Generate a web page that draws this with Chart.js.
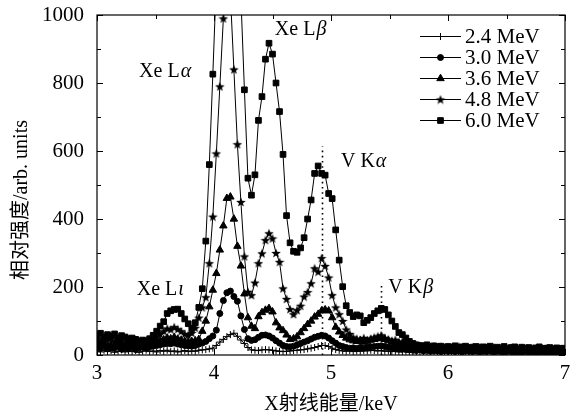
<!DOCTYPE html>
<html><head><meta charset="utf-8">
<script src="https://cdn.jsdelivr.net/npm/chart.js@4.4.1/dist/chart.umd.min.js"></script>
<style>html,body{margin:0;padding:0;background:#fff}</style>
</head><body>
<canvas id="c" width="577" height="419"></canvas>
<script>
// ---- data ----
const energy = [
3.00,3.03,3.06,3.09,3.12,3.15,3.18,3.21,3.24,3.27,
3.30,3.33,3.36,3.39,3.42,3.45,3.48,3.51,3.54,3.57,
3.60,3.63,3.66,3.69,3.72,3.75,3.78,3.81,3.84,3.87,
3.90,3.93,3.96,3.99,4.02,4.05,4.08,4.11,4.14,4.17,
4.20,4.23,4.26,4.29,4.32,4.35,4.38,4.41,4.44,4.47,
4.50,4.53,4.56,4.59,4.62,4.65,4.68,4.71,4.74,4.77,
4.80,4.83,4.86,4.89,4.92,4.95,4.98,5.01,5.04,5.07,
5.10,5.13,5.16,5.19,5.22,5.25,5.28,5.31,5.34,5.37,
5.40,5.43,5.46,5.49,5.52,5.55,5.58,5.61,5.64,5.67,
5.70,5.73,5.76,5.79,5.82,5.85,5.88,5.91,5.94,5.97,
6.00,6.03,6.06,6.09,6.12,6.15,6.18,6.21,6.24,6.27,
6.30,6.33,6.36,6.39,6.42,6.45,6.48,6.51,6.54,6.57,
6.60,6.63,6.66,6.69,6.72,6.75,6.78,6.81,6.84,6.87,
6.90,6.93,6.96,6.99];

const mev24 = [
12,9,14,10,13,8,11,15,9,12,
10,13,8,11,14,10,12,9,13,11,
14,10,12,9,11,13,10,12,11,14,
15,16,18,20,28,38,46,54,60,64,
55,44,34,22,15,14,13,15,16,15,
14,12,11,10,11,12,13,14,15,16,
18,20,22,25,28,28,25,20,16,14,
12,11,13,10,12,11,13,12,14,13,
12,13,11,12,10,11,9,10,11,9,
10,8,9,10,8,9,7,9,8,7,
8,7,9,6,8,7,8,6,7,8,
6,7,8,6,7,5,7,6,7,6,
5,6,7,5,6,5,6,5,6,5,
5,6,4,5];

const mev30 = [
25,20,28,18,24,21,26,17,22,19,
25,16,21,23,20,24,26,28,30,32,
34,33,35,32,30,28,27,26,28,32,
35,40,48,56,73,122,160,183,188,172,
158,115,75,48,43,45,52,58,59,56,
50,42,35,28,25,24,26,30,34,38,
42,47,52,55,58,56,50,42,35,28,
25,22,20,21,19,22,20,23,24,25,
26,27,25,23,21,20,18,17,16,15,
14,13,15,12,14,11,13,12,10,13,
11,12,10,13,9,12,11,10,12,9,
11,10,12,9,11,10,8,11,10,9,
10,8,11,9,10,8,9,10,8,9,
9,8,10,8];

const mev36 = [
32,28,35,26,30,24,33,27,25,30,
22,28,26,24,30,34,36,40,42,45,
50,48,52,47,44,40,38,40,42,46,
70,100,142,191,240,309,380,461,465,400,
320,262,180,110,85,78,113,125,132,137,
127,95,80,72,59,46,48,54,66,78,
90,100,112,120,130,133,130,110,82,68,
58,50,45,42,40,42,38,41,44,46,
48,50,46,42,38,36,33,30,28,27,
25,23,22,24,20,22,19,21,18,20,
19,17,20,16,18,15,19,17,16,18,
15,17,14,18,16,15,17,13,16,15,
14,16,13,15,14,16,12,15,13,14,
13,15,12,14];

const mev48 = [
48,42,52,45,50,40,47,43,36,44,
38,32,40,35,38,45,50,55,62,70,
78,75,82,76,70,62,58,65,80,110,
140,170,270,407,593,790,990,1080,1060,840,
620,450,290,186,176,213,270,299,338,358,
343,300,274,196,165,135,120,132,145,172,
185,211,255,245,285,262,228,176,140,120,
100,75,62,52,48,45,50,44,48,52,
55,58,50,46,42,45,38,40,35,32,
30,28,26,24,27,22,25,21,24,20,
23,19,22,25,18,21,20,23,17,22,
19,21,18,22,16,20,19,17,21,18,
16,20,18,15,19,17,18,16,19,15,
17,16,18,15];

const mev60 = [
58,64,52,60,55,62,50,57,53,48,
50,46,40,44,42,48,58,70,85,98,
122,130,134,135,122,106,92,78,95,140,
195,335,560,826,1100,1350,1500,1550,1500,1380,
1200,1050,780,520,470,530,690,760,870,917,
885,800,716,590,410,330,305,302,315,345,
400,456,534,556,534,529,475,460,368,279,
201,145,125,113,118,115,95,102,110,122,
130,137,134,118,100,84,66,60,50,40,
34,30,28,25,30,22,27,24,26,20,
25,23,27,21,24,26,19,23,25,20,
24,22,26,18,23,21,25,19,22,24,
18,23,20,22,17,21,24,19,20,22,
18,21,19,20];

const seriesLabels = ['2.4 MeV','3.0 MeV','3.6 MeV','4.8 MeV','6.0 MeV'];
const xTickValues = [3,4,5,6,7];
const yTickValues = [0,200,400,600,800,1000];
const xTitle = 'X射线能量/keV';
const yTitle = '相对强度/arb. units';
// dotted reference lines: energy (keV) and top (arb. units)
const lineEnergies = [4.92, 5.43];
const lineTops = [613, 203];
// peak names: roman part + greek part, anchored in data coordinates
const peakNames = ['Xe L','Xe L','V K','V K','Xe L'];
const peakGreek = ['α','β','α','β','ι'];
const peakAnchorE = [3.36, 4.52, 5.085, 5.49, 3.34];
const peakAnchorV = [832, 956, 568, 197, 191];

// ---- drawing ----
const SERIF = "'Liberation Serif','Noto Sans CJK SC',serif";
function makeStar(size){
  const c=document.createElement('canvas'); c.width=c.height=size;
  const g=c.getContext('2d'); const R=size/2, r=R*0.42;
  g.beginPath();
  for(let k=0;k<10;k++){const a=-Math.PI/2+k*Math.PI/5; const rr=k%2?r:R;
    g.lineTo(R+rr*Math.cos(a), R+0.5+rr*Math.sin(a));}
  g.closePath(); g.fillStyle='#000'; g.fill(); return c;
}
const starImg = makeStar(10);
const markerStyles = [
  {s:'cross', r:3.5},
  {s:'circle', r:3},
  {s:'triangle', r:4.3},
  {s:starImg, r:5},
  {s:'rect', r:4}
];
const allSeries = [mev24, mev30, mev36, mev48, mev60];

const datasets = allSeries.map((vals,i)=>({
  label: seriesLabels[i],
  data: energy.map((e,j)=>({x:e, y:vals[j]})),
  borderColor:'#000', backgroundColor:'#000', borderWidth:1,
  pointStyle: markerStyles[i].s, pointRadius: markerStyles[i].r,
  pointBorderWidth:1, pointBackgroundColor:'#000', pointBorderColor:'#000',
  pointHoverRadius: markerStyles[i].r,
  fill:false, tension:0, clip:0
}));

function line(ctx,x1,y1,x2,y2){ctx.beginPath();ctx.moveTo(x1,y1);ctx.lineTo(x2,y2);ctx.stroke();}

const decor = {
  id:'decor',
  afterDatasetsDraw(chart){
    const ctx=chart.ctx, xa=chart.scales.x, ya=chart.scales.y, ca=chart.chartArea;
    ctx.save();
    // dotted lines
    ctx.strokeStyle='#000'; ctx.lineWidth=1.6; ctx.setLineDash([1.6,3.6]);
    lineEnergies.forEach((e,i)=>{
      const px=Math.round(xa.getPixelForValue(e))+0.5;
      line(ctx,px,ya.getPixelForValue(0),px,ya.getPixelForValue(lineTops[i]));
    });
    ctx.setLineDash([]);
    // frame
    ctx.lineWidth=1.2;
    ctx.strokeRect(ca.left,ca.top,ca.right-ca.left,ca.bottom-ca.top);
    // inward ticks
    ctx.lineWidth=1;
    for(let v=xa.min; v<=xa.max+1e-6; v+=0.5){
      const px=Math.round(xa.getPixelForValue(v))+0.5;
      const len=(Math.abs(v-Math.round(v))<1e-6)?6:4;
      line(ctx,px,ca.bottom,px,ca.bottom-len);
      line(ctx,px,ca.top,px,ca.top+len);
    }
    for(let v=ya.min; v<=ya.max+1e-6; v+=100){
      const py=Math.round(ya.getPixelForValue(v))+0.5;
      const len=(v%200===0)?6:4;
      line(ctx,ca.left,py,ca.left+len,py);
      line(ctx,ca.right,py,ca.right-len,py);
    }
    // peak labels
    ctx.fillStyle='#000'; ctx.textBaseline='middle'; ctx.textAlign='left';
    peakNames.forEach((n,i)=>{
      const x=xa.getPixelForValue(peakAnchorE[i]), y=ya.getPixelForValue(peakAnchorV[i]);
      ctx.font="20px "+SERIF;
      ctx.fillText(n,x,y);
      const w=ctx.measureText(n).width;
      ctx.font="italic 20px "+SERIF;
      ctx.fillText(peakGreek[i],x+w+1,y);
    });
    // legend
    const lx1=420, lx2=461, tx=465, y0=36, dy=21;
    chart.data.datasets.forEach((ds,i)=>{
      const y=y0+i*dy;
      ctx.strokeStyle='#000'; ctx.lineWidth=1;
      line(ctx,lx1,y+0.5,lx2,y+0.5);
      ctx.fillStyle='#000'; ctx.strokeStyle='#000';
      Chart.helpers.drawPoint(ctx,{pointStyle:ds.pointStyle,radius:ds.pointRadius,rotation:0,borderWidth:1},(lx1+lx2)/2,y+0.5);
      ctx.font="21px "+SERIF; ctx.textBaseline='middle'; ctx.fillStyle='#000';
      ctx.fillText(ds.label,tx,y+1);
    });
    // y-axis title
    ctx.save();
    ctx.translate(22, 200); ctx.rotate(-Math.PI/2);
    ctx.font="20px "+SERIF; ctx.textAlign='center'; ctx.textBaseline='middle'; ctx.fillStyle='#000';
    ctx.fillText(yTitle,0,0);
    ctx.restore();
    ctx.restore();
  }
};

new Chart(document.getElementById('c'),{
  type:'line',
  data:{datasets},
  options:{
    responsive:false, animation:false, events:[],
    layout:{padding:{top:15,right:12,left:0,bottom:0}},
    plugins:{legend:{display:false},tooltip:{enabled:false}},
    scales:{
      x:{type:'linear',min:3,max:7,
        afterBuildTicks(s){s.ticks=xTickValues.map(v=>({value:v}));},
        afterFit(s){s.height=64; s.paddingLeft=0; s.paddingRight=0;},
        grid:{display:false,drawTicks:false}, border:{display:false},
        ticks:{color:'#000',padding:6,font:{family:SERIF,size:21},maxRotation:0,callback:v=>String(v)},
        title:{display:true,text:xTitle,color:'#000',font:{family:SERIF,size:20},padding:{top:0,bottom:2}}
      },
      y:{type:'linear',min:0,max:1000,
        afterBuildTicks(s){s.ticks=yTickValues.map(v=>({value:v}));},
        afterFit(s){s.width=97; s.paddingTop=0; s.paddingBottom=0;},
        grid:{display:false,drawTicks:false}, border:{display:false},
        ticks:{color:'#000',padding:13,font:{family:SERIF,size:21},callback:v=>String(v)},
        title:{display:false}
      }
    }
  },
  plugins:[decor]
});
</script>
</body></html>
